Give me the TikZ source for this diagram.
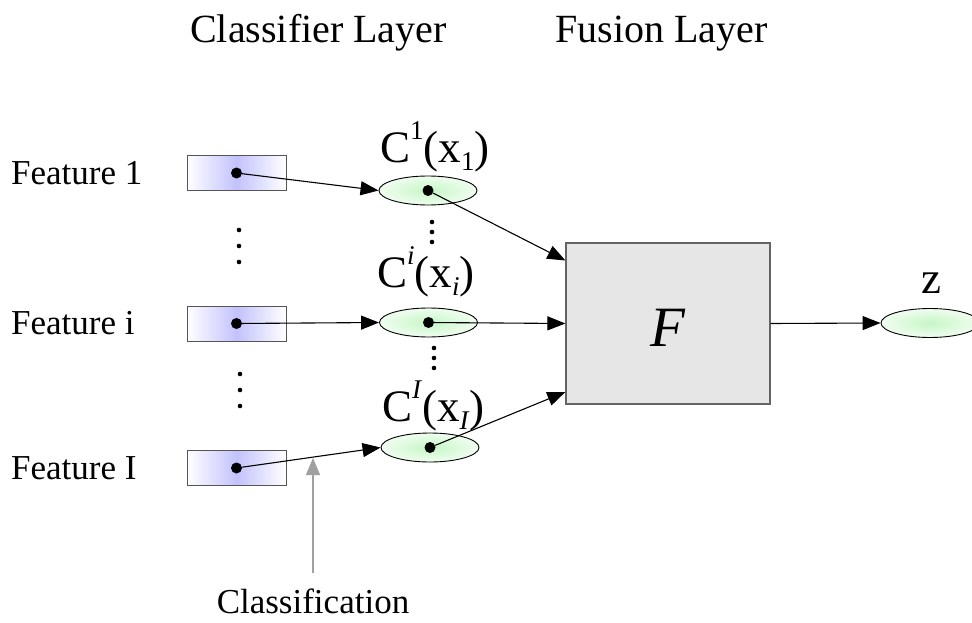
\documentclass[tikz,border=0pt]{standalone}
\usepackage{fontspec}
\setmainfont{Liberation Serif}
\usetikzlibrary{arrows.meta,calc,shapes.geometric}
\definecolor{lav}{RGB}{194,194,252}
\definecolor{lgreen}{RGB}{198,246,198}
\definecolor{lgreenout}{RGB}{240,253,240}
\definecolor{rectborder}{RGB}{85,85,85}
\definecolor{boxfill}{RGB}{230,230,230}
\definecolor{boxborder}{RGB}{100,100,100}
\definecolor{pointer}{RGB}{160,160,160}
\newcommand\clab[2]{C\raisebox{23pt}{\fontsize{27}{27}\selectfont #1}(x\raisebox{-8pt}{\fontsize{27}{27}\selectfont #2})}
\begin{document}
\begin{tikzpicture}[x=1pt,y=-1pt,
  feat/.style={draw=rectborder, line width=1pt, minimum width=99pt, minimum height=35pt, inner sep=0pt,
    left color=white, right color=white, middle color=lav},
  cls/.style={draw=black, line width=0.9pt, ellipse, minimum width=98pt, minimum height=29pt, inner sep=0pt,
    inner color=lgreen, outer color=lgreenout},
  bigdot/.style={circle, fill=black, minimum size=11pt, inner sep=0pt},
  vdot/.style={circle, fill=black, minimum size=4.6pt, inner sep=0pt},
  conn/.style={line width=1.1pt, -{Triangle[length=18pt,width=14pt]}},
  txt/.style={inner sep=0pt, font=\fontsize{35}{35}\selectfont},
  head/.style={inner sep=0pt, font=\fontsize{40}{40}\selectfont},
  clabel/.style={inner sep=0pt, font=\fontsize{45}{45}\selectfont},
  fusion/.style={draw=boxborder, line width=1.2pt, fill=boxfill, minimum width=204pt, minimum height=161pt, inner sep=0pt}
]
\useasboundingbox (0,0) rectangle (972,623);
\clip (0,0) rectangle (972,623);

% headers
\node[head, anchor=base west] (hc) at (190,43) {Classifier Layer};
\node[head, anchor=base west] (hf) at (555,43) {Fusion Layer};

% feature labels
\node[txt, anchor=base west] (f1) at (11,185) {Feature 1};
\node[txt, anchor=base west] (fi) at (11,334) {Feature i};
\node[txt, anchor=base west] (fI) at (11,479) {Feature I};

% feature boxes
\node[feat] (r1) at (236.5,173) {};
\node[feat] (ri) at (236.5,323.5) {};
\node[feat] (rI) at (236.5,468) {};
\node[bigdot] (d1) at (r1.center) {};
\node[bigdot] (di) at (ri.center) {};
\node[bigdot] (dI) at (rI.center) {};

% classifier ellipses
\node[cls] (e1) at (428,190.5) {};
\node[cls] (ei) at (428.5,322.5) {};
\node[cls] (eI) at (430,447.5) {};
\node[bigdot] (ed1) at (e1.center) {};
\node[bigdot] (edi) at (ei.center) {};
\node[bigdot] (edI) at (eI.center) {};

% classifier labels
\node[clabel, anchor=base west] (l1) at (380,163) {\clab{1}{1}};
\node[clabel, anchor=base west] (li) at (377,287) {\clab{\textit{i}}{\textit{i}}};
\node[clabel, anchor=base west] (lI) at (382,421) {\clab{\textit{I}}{\textit{I}}};

% vertical dots, left column
\node[vdot] (a1) at (239,230) {};
\node[vdot] (a2) at (239,246) {};
\node[vdot] (a3) at (239,262) {};
\node[vdot] (b1) at (240,374) {};
\node[vdot] (b2) at (240,390) {};
\node[vdot] (b3) at (240,406) {};
% vertical dots, middle column
\node[vdot] (c1) at (432,222) {};
\node[vdot] (c2) at (432,232) {};
\node[vdot] (c3) at (432,242) {};
\node[vdot] (g1) at (434,348) {};
\node[vdot] (g2) at (434,358) {};
\node[vdot] (g3) at (434,368) {};

% fusion box
\node[fusion] (F) at (668,323.5) {};
\node[inner sep=0pt, font=\fontsize{57}{57}\selectfont\itshape, anchor=base] (Ft) at (668,346) {F};

% output
\node[cls] (ez) at (930,323) {};
\node[clabel, anchor=base] (lz) at (931,293) {z};

% connectors
\draw[conn] (d1) -- (e1.west);
\draw[conn] (di) -- (ei.west);
\draw[conn] (dI) -- (eI.west);
\draw[conn] (ed1) -- ([yshift=63pt]F.west);
\draw[conn] (edi) -- (F.west);
\draw[conn] (edI) -- ([yshift=-68.5pt]F.west);
\draw[conn] (F.east) -- (ez.west);

% classification pointer
\coordinate (ctip) at (313,458);
\coordinate (cbase) at (313,573);
\draw[draw=pointer, line width=1.3pt, -{Triangle[length=17pt,width=14pt]}] (cbase) -- (ctip);
\node[txt, anchor=base] (cl) at (313,613) {Classification};
\end{tikzpicture}
\end{document}
